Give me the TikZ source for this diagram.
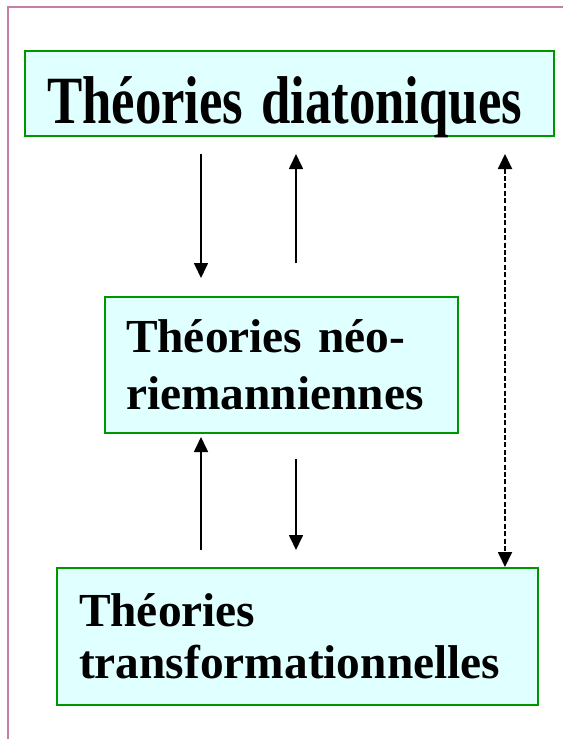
\documentclass[tikz,border=0pt]{standalone}
\usepackage{fontspec}
\setmainfont{Liberation Serif}
\usetikzlibrary{arrows.meta}
\definecolor{boxfill}{RGB}{224,255,255}
\definecolor{boxline}{RGB}{0,150,0}
\definecolor{frameline}{RGB}{200,125,165}

\begin{document}
\begin{tikzpicture}[
    x=0.5pt, y=-0.5pt,
    box/.style={rectangle, draw=boxline, line width=1pt, fill=boxfill, anchor=north west, align=left, inner ysep=0pt},
    arrow/.style={-{Triangle[length=7.5pt, width=7pt]}, line width=0.85pt},
    dblarrow/.style={{Triangle[length=7.5pt, width=7pt]}-{Triangle[length=7.5pt, width=7pt]}, line width=0.9pt, dash pattern=on 2.5pt off 1.2pt}
]
    \useasboundingbox (0,0) rectangle (563,739);
    \draw[frameline, line width=1pt] (8,739) -- (8,7) -- (563,7);

    \node[box, inner xsep=11pt, text width=242.5pt, minimum height=42.5pt, text height=29.5pt, text depth=0pt,
          font=\bfseries\fontsize{26.4}{30}\selectfont] (diat) at (24,50) {\scalebox{1}[1.28]{Théories diatoniques}};
    \node[box, inner xsep=10.5pt, text width=155.5pt, minimum height=68pt,
          font=\bfseries\fontsize{23.7}{28.5}\selectfont] (neo) at (104,296) {Théories néo-\\riemanniennes};
    \node[box, inner xsep=11pt, text width=218.5pt, minimum height=68.5pt,
          font=\bfseries\fontsize{23.7}{26}\selectfont] (trans) at (56,567) {Théories\\transformationnelles};

    \coordinate (colA) at (201,0);
    \coordinate (colB) at (296,0);
    \coordinate (colC) at (505,0);

    \draw[arrow, shorten <=8.5pt, shorten >=9pt] (diat.south -| colA) -- (neo.north -| colA);
    \draw[arrow, shorten <=16.5pt, shorten >=8.5pt] (neo.north -| colB) -- (diat.south -| colB);
    \draw[arrow, shorten <=8.5pt, shorten >=1.5pt] (trans.north -| colA) -- (neo.south -| colA);
    \draw[arrow, shorten <=12.5pt, shorten >=8.5pt] (neo.south -| colB) -- (trans.north -| colB);
    \draw[dblarrow, shorten <=8.5pt] (diat.south -| colC) -- (trans.north -| colC);
\end{tikzpicture}
\end{document}
